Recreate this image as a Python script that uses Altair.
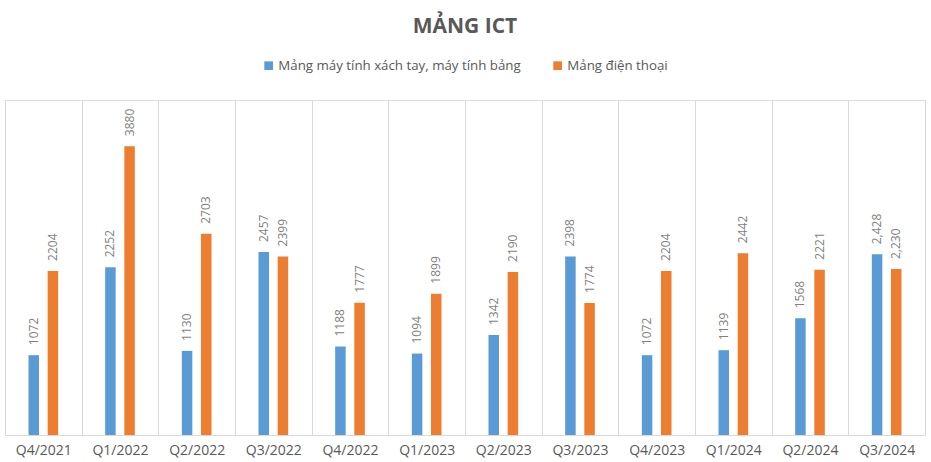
import altair as alt
import pandas as pd

quarters = ["Q4/2021", "Q1/2022", "Q2/2022", "Q3/2022", "Q4/2022", "Q1/2023",
            "Q2/2023", "Q3/2023", "Q4/2023", "Q1/2024", "Q2/2024", "Q3/2024"]
series = ["Mảng máy tính xách tay, máy tính bảng", "Mảng điện thoại"]
laptop = [1072, 2252, 1130, 2457, 1188, 1094, 1342, 2398, 1072, 1139, 1568, 2428]
phone = [2204, 3880, 2703, 2399, 1777, 1899, 2190, 1774, 2204, 2442, 2221, 2230]
laptop_labels = ["1072", "2252", "1130", "2457", "1188", "1094", "1342", "2398",
                 "1072", "1139", "1568", "2,428"]
phone_labels = ["2204", "3880", "2703", "2399", "1777", "1899", "2190", "1774",
                "2204", "2442", "2221", "2,230"]
colors = ["#5B9BD5", "#ED7D31"]

rows = []
for i, q in enumerate(quarters):
    rows.append({"quarter": q, "series": series[0], "value": laptop[i], "label": laptop_labels[i]})
    rows.append({"quarter": q, "series": series[1], "value": phone[i], "label": phone_labels[i]})
df = pd.DataFrame(rows)

FONT = "Open Sans"

x = alt.X("quarter:N", sort=quarters, title=None,
          scale=alt.Scale(paddingInner=0, paddingOuter=0),
          axis=alt.Axis(labelAngle=0, labelFontSize=14, labelColor="#595959",
                        labelFont=FONT, labelPadding=8, ticks=False, grid=True,
                        gridColor="#d9d9d9", tickBand="extent", domainColor="#d9d9d9"))
xo = alt.XOffset("series:N", sort=series,
                 scale=alt.Scale(domain=series, paddingInner=0, paddingOuter=1))
y = alt.Y("value:Q", title=None, axis=None, scale=alt.Scale(domain=[0, 4500], nice=False))

base = alt.Chart(df).encode(x=x, xOffset=xo, y=y)

bars = base.mark_bar(width=10.5).encode(
    color=alt.Color("series:N", sort=series,
                    scale=alt.Scale(domain=series, range=colors),
                    legend=alt.Legend(title=None, orient="none", direction="horizontal",
                                      legendX=257, legendY=-41, symbolType="square",
                                      symbolSize=75, symbolStrokeWidth=0,
                                      labelFontSize=13.3, labelColor="#595959",
                                      labelFont=FONT, columnPadding=30, labelOffset=3,
                                      labelLimit=0))
)

texts = base.mark_text(angle=270, align="left", baseline="middle", dx=10,
                       fontSize=12, font=FONT, color="#7f7f7f").encode(text="label:N")

chart = (bars + texts).properties(
    width=920, height=335,
    autosize=alt.AutoSizeParams(type="none"),
    padding={"left": 5, "top": 100, "right": 6, "bottom": 27},
    title=alt.TitleParams("MẢNG ICT", fontSize=21, font=FONT, fontWeight="bold",
                          color="#595959", anchor="middle", offset=22),
).configure_view(strokeWidth=0).configure(background="white")

chart.save("out.html", embed_options={"renderer": "svg", "actions": False})
